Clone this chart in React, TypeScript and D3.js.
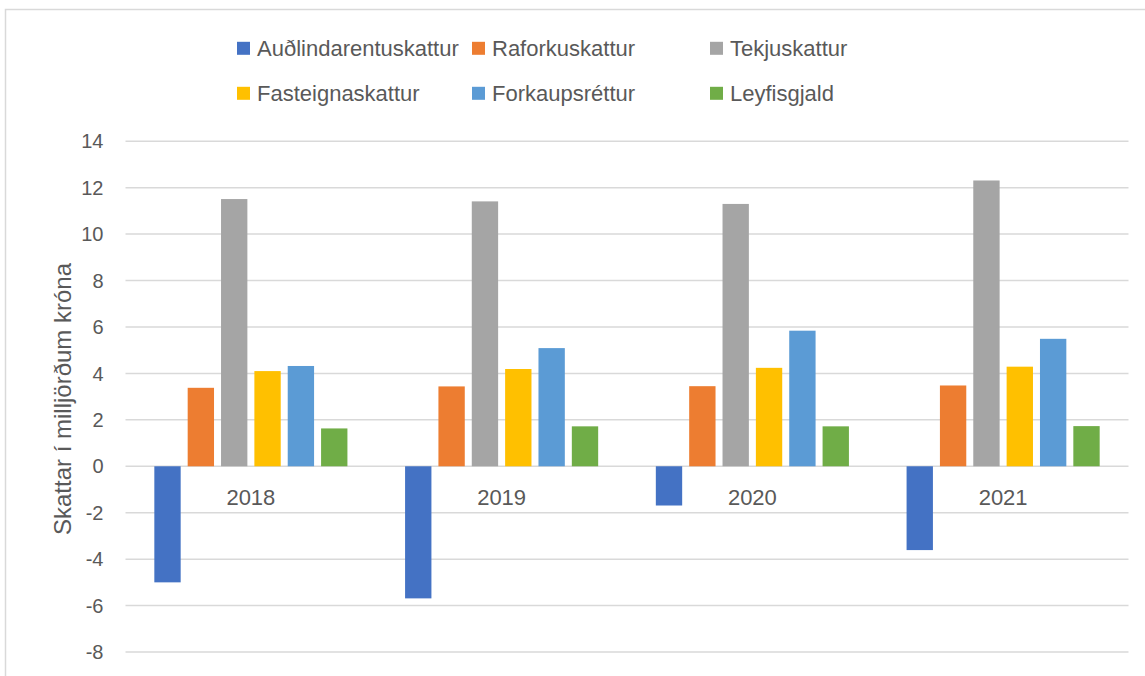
import React from 'react';
import * as d3 from 'd3';

const years = ['2018', '2019', '2020', '2021'];
const seriesNames = ['Auðlindarentuskattur', 'Raforkuskattur', 'Tekjuskattur', 'Fasteignaskattur', 'Forkaupsréttur', 'Leyfisgjald'];
const audlindarentuskattur = [-5.0, -5.69, -1.69, -3.61];
const raforkuskattur = [3.38, 3.44, 3.45, 3.48];
const tekjuskattur = [11.51, 11.41, 11.3, 12.31];
const fasteignaskattur = [4.1, 4.19, 4.24, 4.29];
const forkaupsrettur = [4.32, 5.09, 5.84, 5.49];
const leyfisgjald = [1.63, 1.72, 1.72, 1.73];
const seriesColors = ['#4472C4', '#ED7D31', '#A5A5A5', '#FFC000', '#5B9BD5', '#70AD47'];
const yTicks = [14, 12, 10, 8, 6, 4, 2, 0, -2, -4, -6, -8];
const yTitle = 'Skattar í milljörðum króna';

const seriesValues = [audlindarentuskattur, raforkuskattur, tekjuskattur, fasteignaskattur, forkaupsrettur, leyfisgjald];

export default function App() {
  const W = 1145, H = 676;
  const font = '"Liberation Sans", Arial, sans-serif';
  const textColor = '#595959';
  const grid = '#d9d9d9';

  const y = d3.scaleLinear().domain([-8, 14]).range([652, 141.25]);
  const x0 = d3.scaleBand<string>().domain(years).range([125.5, 1128.5]);
  const bw = x0.bandwidth();
  const x1 = d3.scaleBand<string>().domain(seriesNames).range([bw * 0.101, bw * 0.899]).paddingInner(0.21).paddingOuter(0.105);

  const legendCols = [237, 472, 710];
  const legendRows = [48.3, 93.3];

  return (
    <svg width={W} height={H} style={{ position: 'absolute', left: 0, top: 0, background: '#fff' }} fontFamily={font}>
      <rect x={5.5} y={9.5} width={1200} height={800} fill="#fff" stroke={grid} strokeWidth={1.5} />
      {yTicks.map(t => (
        <g key={t}>
          <line x1={125.5} x2={1128.5} y1={y(t)} y2={y(t)} stroke={grid} strokeWidth={1.5} />
          <text x={103.5} y={y(t)} dy="0.36em" textAnchor="end" fontSize={20} fill={textColor}>{t}</text>
        </g>
      ))}
      {years.map((yr, i) => (
        <g key={yr} transform={`translate(${x0(yr)},0)`}>
          {seriesNames.map((s, j) => {
            const v = seriesValues[j][i];
            return (
              <rect key={s} x={x1(s)} width={x1.bandwidth()} y={y(Math.max(0, v))} height={Math.abs(y(v) - y(0))} fill={seriesColors[j]} />
            );
          })}
        </g>
      ))}
      {years.map(yr => (
        <text key={yr} x={(x0(yr) as number) + bw / 2} y={497} dy="0.36em" textAnchor="middle" fontSize={22} fill={textColor}>{yr}</text>
      ))}
      <text transform={`translate(62,399) rotate(-90)`} textAnchor="middle" dy="0.36em" fontSize={24} fill={textColor}>{yTitle}</text>
      {seriesNames.map((s, j) => {
        const col = j % 3;
        const row = Math.floor(j / 3);
        const lx = legendCols[col];
        const ly = legendRows[row];
        return (
          <g key={s}>
            <rect x={lx} y={ly - 6.5} width={13} height={13} fill={seriesColors[j]} />
            <text x={lx + 20} y={ly} dy="0.36em" fontSize={22} fill={textColor}>{s}</text>
          </g>
        );
      })}
    </svg>
  );
}
